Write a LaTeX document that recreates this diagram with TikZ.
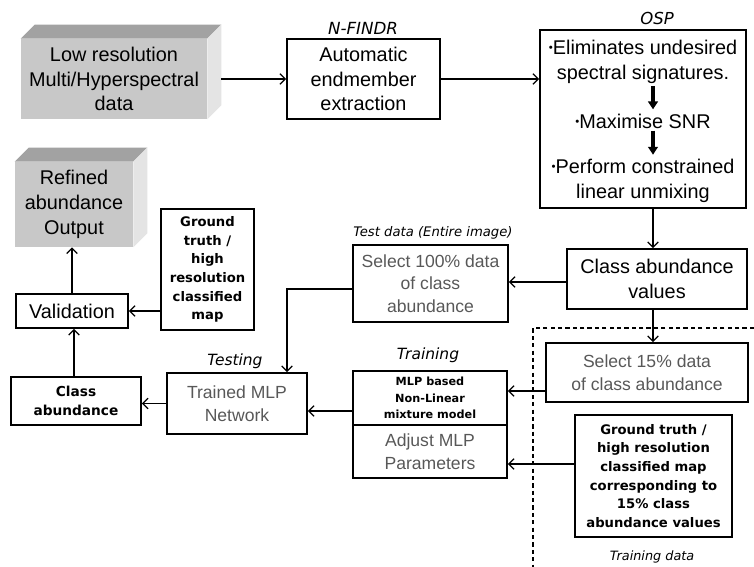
\documentclass[tikz,border=0pt]{standalone}
\usepackage{fontspec}
\setmainfont{Liberation Sans}
\newfontfamily\verdanafont{DejaVu Sans}
\newfontfamily\comicfont{DejaVu Sans}
\usetikzlibrary{arrows.meta,calc}

\definecolor{frontgrey}{HTML}{C8C8C8}
\definecolor{topgrey}{HTML}{A2A2A2}
\definecolor{sidegrey}{HTML}{E4E4E4}
\definecolor{inkgrey}{HTML}{585858}

\newcommand\osppt{{\fontsize{6.5}{6}\selectfont\raisebox{0.5ex}{•}}}

\tikzset{
  box/.style={draw,line width=1pt,align=center,inner sep=1pt,
    font=\fontsize{11.3}{13.8}\selectfont},
  greybox/.style={box,text=inkgrey,font=\fontsize{10}{12.8}\selectfont},
  boldbox/.style={box,font=\verdanafont\bfseries\fontsize{7.5}{10.6}\selectfont},
  solid3d/.style={fill=frontgrey,align=center,inner sep=1pt,
    font=\fontsize{11.3}{13.8}\selectfont},
  tag/.style={font=\comicfont\itshape\fontsize{8.8}{10}\selectfont},
  smalltag/.style={font=\comicfont\itshape\fontsize{7.3}{9}\selectfont},
  link/.style={->,line width=0.75pt},
  fatlink/.style={-{Triangle[length=4.5pt,width=5.5pt]},line width=1.8pt},
}

\begin{document}
\begin{tikzpicture}[x=0.02cm,y=-0.02cm,
    >={Straight Barb[length=3pt,width=6pt]}]
    \useasboundingbox (0,0) rectangle (754,567);

    % Top row: input, endmember extraction, OSP.
    \node[solid3d,minimum width=3.72cm,minimum height=1.6cm] (lowres)
        at (114,79) {Low resolution\\Multi/Hyperspectral\\data};
    \fill[topgrey] (lowres.north west) -- ++(14,-14)
        -- ([xshift=0.28cm,yshift=0.28cm]lowres.north east)
        -- (lowres.north east) -- cycle;
    \fill[sidegrey] (lowres.north east) -- ++(14,-14)
        -- ([xshift=0.28cm,yshift=0.28cm]lowres.south east)
        -- (lowres.south east) -- cycle;

    \node[box,minimum width=3.06cm,minimum height=1.6cm] (nfindr)
        at (363.5,79) {Automatic\\endmember\\extraction};
    \node[tag,font=\comicfont\itshape\fontsize{9.5}{10}\selectfont] (nfindrlbl)
        at (363,28) {N-FINDR};

    \node[box,minimum width=4.12cm,minimum height=3.56cm] (osp)
        at (643,119) {};
    \node[tag,font=\comicfont\itshape\fontsize{9.4}{10}\selectfont] (osplbl)
        at (657,18) {OSP};
    \node[align=center,inner sep=0pt,font=\fontsize{11.3}{14.4}\selectfont]
        (osp1) at (643,62) {\osppt Eliminates undesired\\spectral signatures.};
    \node[inner sep=0pt,font=\fontsize{11.3}{14.4}\selectfont]
        (osp2) at (643,121) {\osppt Maximise SNR};
    \node[align=center,inner sep=0pt,font=\fontsize{11.3}{14.4}\selectfont]
        (osp3) at (643,181) {\osppt Perform constrained\\linear unmixing};
    \draw[fatlink] ($(osp1.south)+(10,2)$) -- ($(osp2.north)+(10,-4)$);
    \draw[fatlink] ($(osp2.south)+(10,2)$) -- ($(osp3.north)+(10,-4)$);

    \draw[link] ($(lowres.east)+(14,0)$) -- (nfindr.west);
    \draw[link] (nfindr.east) -- (nfindr.east -| osp.west);

    % Right column: abundance values and training data.
    \node[box,minimum width=3.6cm,minimum height=1.2cm] (cav)
        at (657,279) {Class abundance\\values};
    \draw[link] ($(osp.south)+(10,0)$) -- ($(cav.north)+(-4,0)$);

    \draw[dash pattern=on 2.4pt off 1.8pt,line width=0.7pt]
        (754,328) -- (533,328) -- (533,567);
    \node[greybox,minimum width=4.04cm,minimum height=1.18cm] (sel15)
        at (647,372.5) {Select 15\% data\\of class abundance};
    \draw[link] ($(cav.south)+(-4,0)$) -- ($(sel15.north)+(6,0)$);
    \node[boldbox,minimum width=3.14cm,minimum height=2.44cm] (gt15)
        at (653.5,476) {Ground truth /\\high resolution\\classified map\\
        corresponding to\\15\% class\\abundance values};
    \node[smalltag] (traindatalbl) at (652,557) {Training data};

    % Middle: test data and the MLP.
    \node[greybox,minimum width=3.1cm,minimum height=1.54cm] (sel100)
        at (430.5,283.5) {Select 100\% data\\of class\\abundance};
    \node[smalltag,font=\comicfont\itshape\fontsize{7.5}{9}\selectfont]
        (testlbl) at (433,233) {Test data (Entire image)};
    \coordinate (testin) at ($(sel100.east)+(0,-1.5)$);
    \draw[link] (testin -| cav.west) -- (testin);

    \node[boldbox,font=\verdanafont\bfseries\fontsize{6.4}{9.3}\selectfont,
        minimum width=3.08cm,minimum height=1.08cm] (mlp)
        at (430,398) {MLP based\\Non-Linear\\mixture model};
    \node[greybox,minimum width=3.08cm,minimum height=1.06cm] (adjust)
        at (430,451.5) {Adjust MLP\\Parameters};
    \node[tag] (traininglbl) at (428,355) {Training};
    \coordinate (mlpin) at ($(mlp.east)+(0,-7)$);
    \draw[link] (mlpin -| sel15.west) -- (mlpin);
    \coordinate (adjin) at ($(adjust.east)+(0,12.5)$);
    \draw[link] (adjin -| gt15.west) -- (adjin);

    \node[greybox,minimum width=2.8cm,minimum height=1.22cm] (trained)
        at (237,403.5) {Trained MLP\\Network};
    \node[tag] (testinglbl) at (235,361) {Testing};
    \draw[link] ($(sel100.west)+(0,5.5)$) -| ($(trained.north)+(50,0)$);
    \coordinate (netin) at ($(trained.east)+(0,7.5)$);
    \draw[link] (netin -| mlp.west) -- (netin);

    % Left column: validation and output.
    \node[boldbox,font=\verdanafont\bfseries\fontsize{7.8}{10.8}\selectfont,
        minimum width=2.6cm,minimum height=0.96cm] (clsab)
        at (76,401) {Class\\abundance};
    \draw[link] (trained.west) -- (trained.west -| clsab.east);

    \node[box,minimum width=2.24cm,minimum height=0.68cm] (valid)
        at (72,311) {Validation};
    \draw[link] ($(clsab.north)+(-2,0)$) -- ($(valid.south)+(2,0)$);

    \node[boldbox,minimum width=1.86cm,minimum height=2.42cm] (gtmap)
        at (207.5,269.5) {Ground\\truth /\\high\\resolution\\classified\\map};
    \draw[link] (valid.east -| gtmap.west) -- (valid.east);

    \node[solid3d,minimum width=2.36cm,minimum height=1.7cm,
        font=\fontsize{11.3}{14.2}\selectfont] (refined)
        at (74,204.5) {Refined\\abundance\\Output};
    \fill[topgrey] (refined.north west) -- ++(14,-14)
        -- ([xshift=0.28cm,yshift=0.28cm]refined.north east)
        -- (refined.north east) -- cycle;
    \fill[sidegrey] (refined.north east) -- ++(14,-14)
        -- ([xshift=0.28cm,yshift=0.28cm]refined.south east)
        -- (refined.south east) -- cycle;
    \draw[link] (valid.north) -- (valid.north |- refined.south);
\end{tikzpicture}
\end{document}
